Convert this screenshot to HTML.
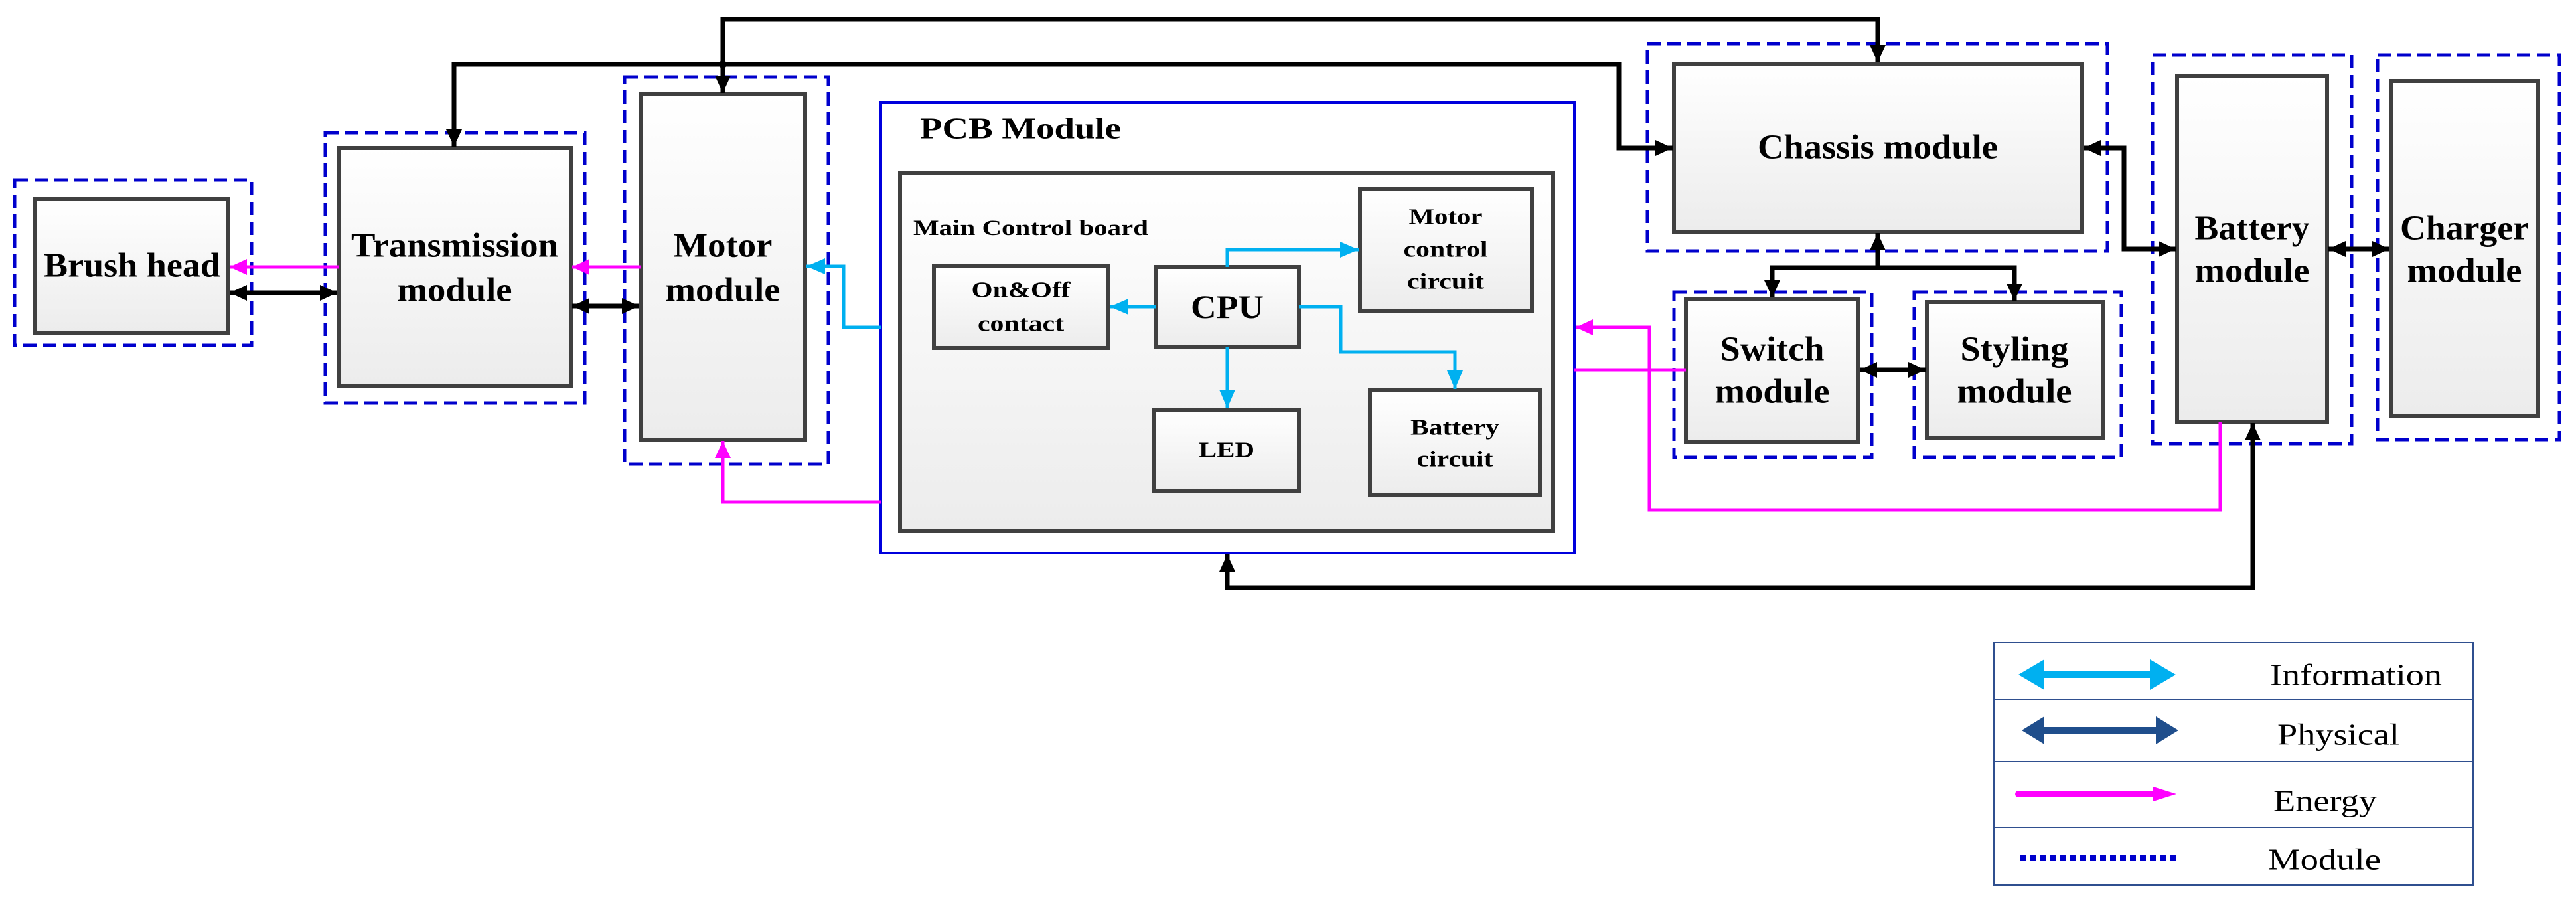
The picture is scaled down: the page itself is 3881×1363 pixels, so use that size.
<!DOCTYPE html>
<html><head><meta charset="utf-8"><style>
html,body{margin:0;padding:0;background:#fff;}
svg{display:block;}
text{font-family:"Liberation Serif","Times New Roman",serif;font-weight:bold;fill:#000;text-anchor:middle;dominant-baseline:central;}
.d{fill:none;stroke:#0000cc;stroke-width:5;stroke-dasharray:20 10;}
.b{fill:url(#g);stroke:#404040;stroke-width:6;}
.k{fill:none;stroke:#000;stroke-width:7;}
.m{fill:none;stroke:#ff00ff;stroke-width:5;}
.c{fill:none;stroke:#00b0f0;stroke-width:5;}
.L{font-weight:normal;font-size:46px;text-anchor:start;}
</style></head><body>
<svg width="3881" height="1363" viewBox="0 0 3881 1363" xmlns="http://www.w3.org/2000/svg">
<defs>
<linearGradient id="g" x1="0" y1="0" x2="0" y2="1"><stop offset="0" stop-color="#ffffff"/><stop offset="1" stop-color="#ececec"/></linearGradient>
<marker id="ak" markerUnits="userSpaceOnUse" markerWidth="30" markerHeight="30" refX="26" refY="12" orient="auto-start-reverse"><path d="M0,0 L26,12 L0,24 z" fill="#000"/></marker>
<marker id="am" markerUnits="userSpaceOnUse" markerWidth="30" markerHeight="30" refX="26" refY="12" orient="auto-start-reverse"><path d="M0,0 L26,12 L0,24 z" fill="#ff00ff"/></marker>
<marker id="ac" markerUnits="userSpaceOnUse" markerWidth="32" markerHeight="30" refX="28" refY="12" orient="auto-start-reverse"><path d="M0,0 L28,12 L0,24 z" fill="#00b0f0"/></marker>
</defs>

<rect class="d" x="22" y="271" width="357" height="249"/>
<rect class="d" x="490" y="200" width="391" height="407"/>
<rect class="d" x="941" y="116" width="307" height="583"/>
<rect class="d" x="2482" y="66" width="693" height="312"/>
<rect class="d" x="2522" y="440" width="298" height="249"/>
<rect class="d" x="2884" y="440" width="312" height="249"/>
<rect class="d" x="3243" y="83" width="300" height="585"/>
<rect class="d" x="3582" y="83" width="274" height="579"/>

<rect x="1327" y="154" width="1045" height="679" fill="#fff" stroke="#0000dd" stroke-width="4"/>
<text x="1386" y="193" style="text-anchor:start;font-size:46px" textLength="303" lengthAdjust="spacingAndGlyphs">PCB Module</text>
<rect class="b" x="1356" y="260" width="984" height="540"/>
<text x="1376" y="344" style="text-anchor:start;font-size:33px" textLength="354" lengthAdjust="spacingAndGlyphs">Main Control board</text>

<rect class="b" x="53" y="300" width="291" height="201"/>
<text x="199" y="400" style="font-size:52px" textLength="266" lengthAdjust="spacingAndGlyphs">Brush head</text>
<rect class="b" x="510" y="223" width="350" height="358"/>
<text x="685" y="370" style="font-size:52px" textLength="312" lengthAdjust="spacingAndGlyphs">Transmission</text>
<text x="685" y="437" style="font-size:52px" textLength="173" lengthAdjust="spacingAndGlyphs">module</text>
<rect class="b" x="965" y="142" width="248" height="520"/>
<text x="1089" y="370" style="font-size:52px" textLength="149" lengthAdjust="spacingAndGlyphs">Motor</text>
<text x="1089" y="437" style="font-size:52px" textLength="173" lengthAdjust="spacingAndGlyphs">module</text>

<rect class="b" x="1407" y="401" width="263" height="123"/>
<text x="1538" y="437" style="font-size:34px" textLength="149" lengthAdjust="spacingAndGlyphs">On&amp;Off</text>
<text x="1538" y="488" style="font-size:34px" textLength="130" lengthAdjust="spacingAndGlyphs">contact</text>
<rect class="b" x="1741" y="402" width="216" height="121"/>
<text x="1849" y="462" style="font-size:50px" textLength="110" lengthAdjust="spacingAndGlyphs">CPU</text>
<rect class="b" x="1739" y="617" width="218" height="123"/>
<text x="1848" y="678" style="font-size:34px" textLength="84" lengthAdjust="spacingAndGlyphs">LED</text>
<rect class="b" x="2049" y="284" width="259" height="185"/>
<text x="2178" y="327" style="font-size:34px" textLength="111" lengthAdjust="spacingAndGlyphs">Motor</text>
<text x="2178" y="376" style="font-size:34px" textLength="127" lengthAdjust="spacingAndGlyphs">control</text>
<text x="2178" y="424" style="font-size:34px" textLength="116" lengthAdjust="spacingAndGlyphs">circuit</text>
<rect class="b" x="2064" y="588" width="256" height="158"/>
<text x="2192" y="644" style="font-size:34px" textLength="134" lengthAdjust="spacingAndGlyphs">Battery</text>
<text x="2192" y="692" style="font-size:34px" textLength="115" lengthAdjust="spacingAndGlyphs">circuit</text>

<rect class="b" x="2522" y="96" width="615" height="253"/>
<text x="2829" y="222" style="font-size:52px" textLength="362" lengthAdjust="spacingAndGlyphs">Chassis module</text>
<rect class="b" x="2540" y="450" width="260" height="215"/>
<text x="2670" y="526" style="font-size:52px" textLength="157" lengthAdjust="spacingAndGlyphs">Switch</text>
<text x="2670" y="590" style="font-size:52px" textLength="173" lengthAdjust="spacingAndGlyphs">module</text>
<rect class="b" x="2903" y="455" width="265" height="204"/>
<text x="3035" y="526" style="font-size:52px" textLength="163" lengthAdjust="spacingAndGlyphs">Styling</text>
<text x="3035" y="590" style="font-size:52px" textLength="173" lengthAdjust="spacingAndGlyphs">module</text>
<rect class="b" x="3280" y="115" width="226" height="520"/>
<text x="3393" y="344" style="font-size:52px" textLength="173" lengthAdjust="spacingAndGlyphs">Battery</text>
<text x="3393" y="408" style="font-size:52px" textLength="173" lengthAdjust="spacingAndGlyphs">module</text>
<rect class="b" x="3602" y="122" width="222" height="505"/>
<text x="3713" y="344" style="font-size:52px" textLength="194" lengthAdjust="spacingAndGlyphs">Charger</text>
<text x="3713" y="408" style="font-size:52px" textLength="173" lengthAdjust="spacingAndGlyphs">module</text>

<path class="c" d="M1849,402 V376 H2047" marker-end="url(#ac)"/>
<path class="c" d="M1741,462 H1672" marker-end="url(#ac)"/>
<path class="c" d="M1849,523 V615" marker-end="url(#ac)"/>
<path class="c" d="M1957,462 H2020 V530 H2192 V586" marker-end="url(#ac)"/>
<path class="c" d="M1327,493 H1271 V401 H1215" marker-end="url(#ac)"/>

<path class="m" d="M1327,756 H1089 V664" marker-end="url(#am)"/>
<path class="m" d="M965,402 H862" marker-end="url(#am)"/>
<path class="m" d="M510,402 H346" marker-end="url(#am)"/>
<path class="m" d="M3345,635 V768 H2485 V493 H2374" marker-end="url(#am)"/>
<path class="m" d="M2540,557 H2372"/>

<path class="k" d="M346,441 H508" marker-start="url(#ak)" marker-end="url(#ak)"/>
<path class="k" d="M862,461 H963" marker-start="url(#ak)" marker-end="url(#ak)"/>
<path class="k" d="M1089,140 V29 H2829 V94" marker-start="url(#ak)" marker-end="url(#ak)"/>
<path class="k" d="M684,221 V97 H2439 V223 H2520" marker-start="url(#ak)" marker-end="url(#ak)"/>
<circle cx="1089" cy="97" r="6" fill="#000"/>
<path class="k" d="M3139,223 H3200 V375 H3278" marker-start="url(#ak)" marker-end="url(#ak)"/>
<path class="k" d="M2829,351 V403" marker-start="url(#ak)"/>
<path class="k" d="M2670,448 V403 H3035 V453" marker-start="url(#ak)" marker-end="url(#ak)"/>
<path class="k" d="M2802,557 H2901" marker-start="url(#ak)" marker-end="url(#ak)"/>
<path class="k" d="M3508,375 H3600" marker-start="url(#ak)" marker-end="url(#ak)"/>
<path class="k" d="M3394,637 V885 H1849 V835" marker-start="url(#ak)" marker-end="url(#ak)"/>

<g fill="none" stroke="#2f4f8f" stroke-width="2">
<rect x="3004" y="968" width="722" height="365"/>
<line x1="3004" y1="1054" x2="3726" y2="1054"/>
<line x1="3004" y1="1147" x2="3726" y2="1147"/>
<line x1="3004" y1="1246" x2="3726" y2="1246"/>
</g>
<path d="M3041,1016 L3080,993 L3080,1011 L3239,1011 L3239,993 L3278,1016 L3239,1039 L3239,1021 L3080,1021 L3080,1039 z" fill="#00b0f0"/>
<path d="M3046,1100 L3080,1079 L3080,1095 L3248,1095 L3248,1079 L3282,1100 L3248,1121 L3248,1105 L3080,1105 L3080,1121 z" fill="#1f4e8c"/>
<path d="M3041,1196 H3247" stroke="#ff00ff" stroke-width="10" stroke-linecap="round"/>
<path d="M3244,1185 L3279,1196 L3244,1207 z" fill="#ff00ff"/>
<line x1="3044" y1="1292" x2="3284" y2="1292" stroke="#0000cc" stroke-width="9" stroke-dasharray="9 6"/>
<text class="L" x="3420" y="1016" textLength="259" lengthAdjust="spacingAndGlyphs">Information</text>
<text class="L" x="3431" y="1106" textLength="184" lengthAdjust="spacingAndGlyphs">Physical</text>
<text class="L" x="3425" y="1206" textLength="156" lengthAdjust="spacingAndGlyphs">Energy</text>
<text class="L" x="3417" y="1294" textLength="170" lengthAdjust="spacingAndGlyphs">Module</text>
</svg>
</body></html>
